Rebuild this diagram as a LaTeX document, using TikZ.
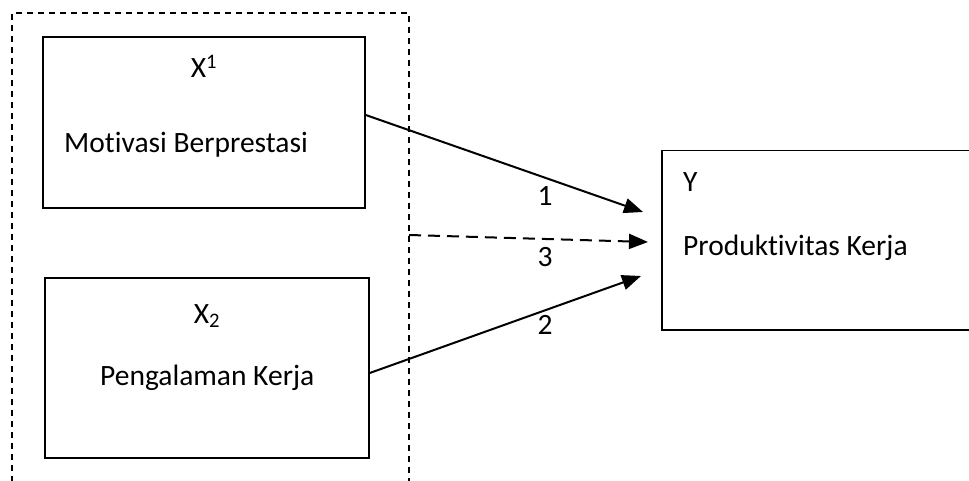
\documentclass[tikz,border=0pt]{standalone}
\usepackage{fontspec}
\setmainfont{Carlito}[Ligatures={NoCommon}]
\usetikzlibrary{arrows.meta}

\begin{document}
\begin{tikzpicture}[x=1pt,y=-1pt,
    var/.style={draw,line width=1.5pt,rectangle,inner sep=0pt},
    txt/.style={font=\fontsize{29.5}{34}\selectfont,inner sep=0pt},
    path/.style={line width=2pt,-{Triangle[length=19pt,width=15pt]}}]
                \useasboundingbox (0,0) rectangle (969,481);
                \clip (0,0) rectangle (969,481);
                % Draw the dashed frame
                \draw[line width=1.3pt,dash pattern=on 6pt off 5pt] (409,495) -- (409,13) -- (12,13) -- (12,495);
                \coordinate (frame) at (409,235);
                % Draw the boxes
                \node[var,minimum width=322pt,minimum height=171pt] (x1) at (204,122.5) {};
                \node[var,minimum width=324pt,minimum height=180pt] (x2) at (207,368) {};
                \node[var,minimum width=330pt,minimum height=179pt,anchor=north west] (y) at (661,150) {};
                % Texts in the boxes
                \node[txt] (x1name) at (204,66) {X\textsuperscript{1}};
                \node[txt,anchor=west] (x1text) at (64,145) {Motivasi Berprestasi};
                \node[txt] (x2name) at (207,316) {X\textsubscript{2}};
                \node[txt,anchor=west] (x2text) at (100,378) {Pengalaman Kerja};
                \node[txt,anchor=west] (yname) at (683,182) {Y};
                \node[txt,anchor=west] (ytext) at (683,248) {Produktivitas Kerja};
                % Draw the arrows
                \coordinate (y1) at (643,212);
                \coordinate (y3) at (648,242);
                \coordinate (y2) at (641,276);
                \draw[path] (x1.east |- 0,115) -- (y1);
                \draw[path] (x2.east |- 0,373) -- (y2);
                \draw[path,dash pattern=on 12pt off 7pt] (frame) -- (y3);
                % Path labels
                \node[txt] (p1) at (545,196) {1};
                \node[txt] (p3) at (545,257) {3};
                \node[txt] (p2) at (545,325) {2};
            \end{tikzpicture}
\end{document}
